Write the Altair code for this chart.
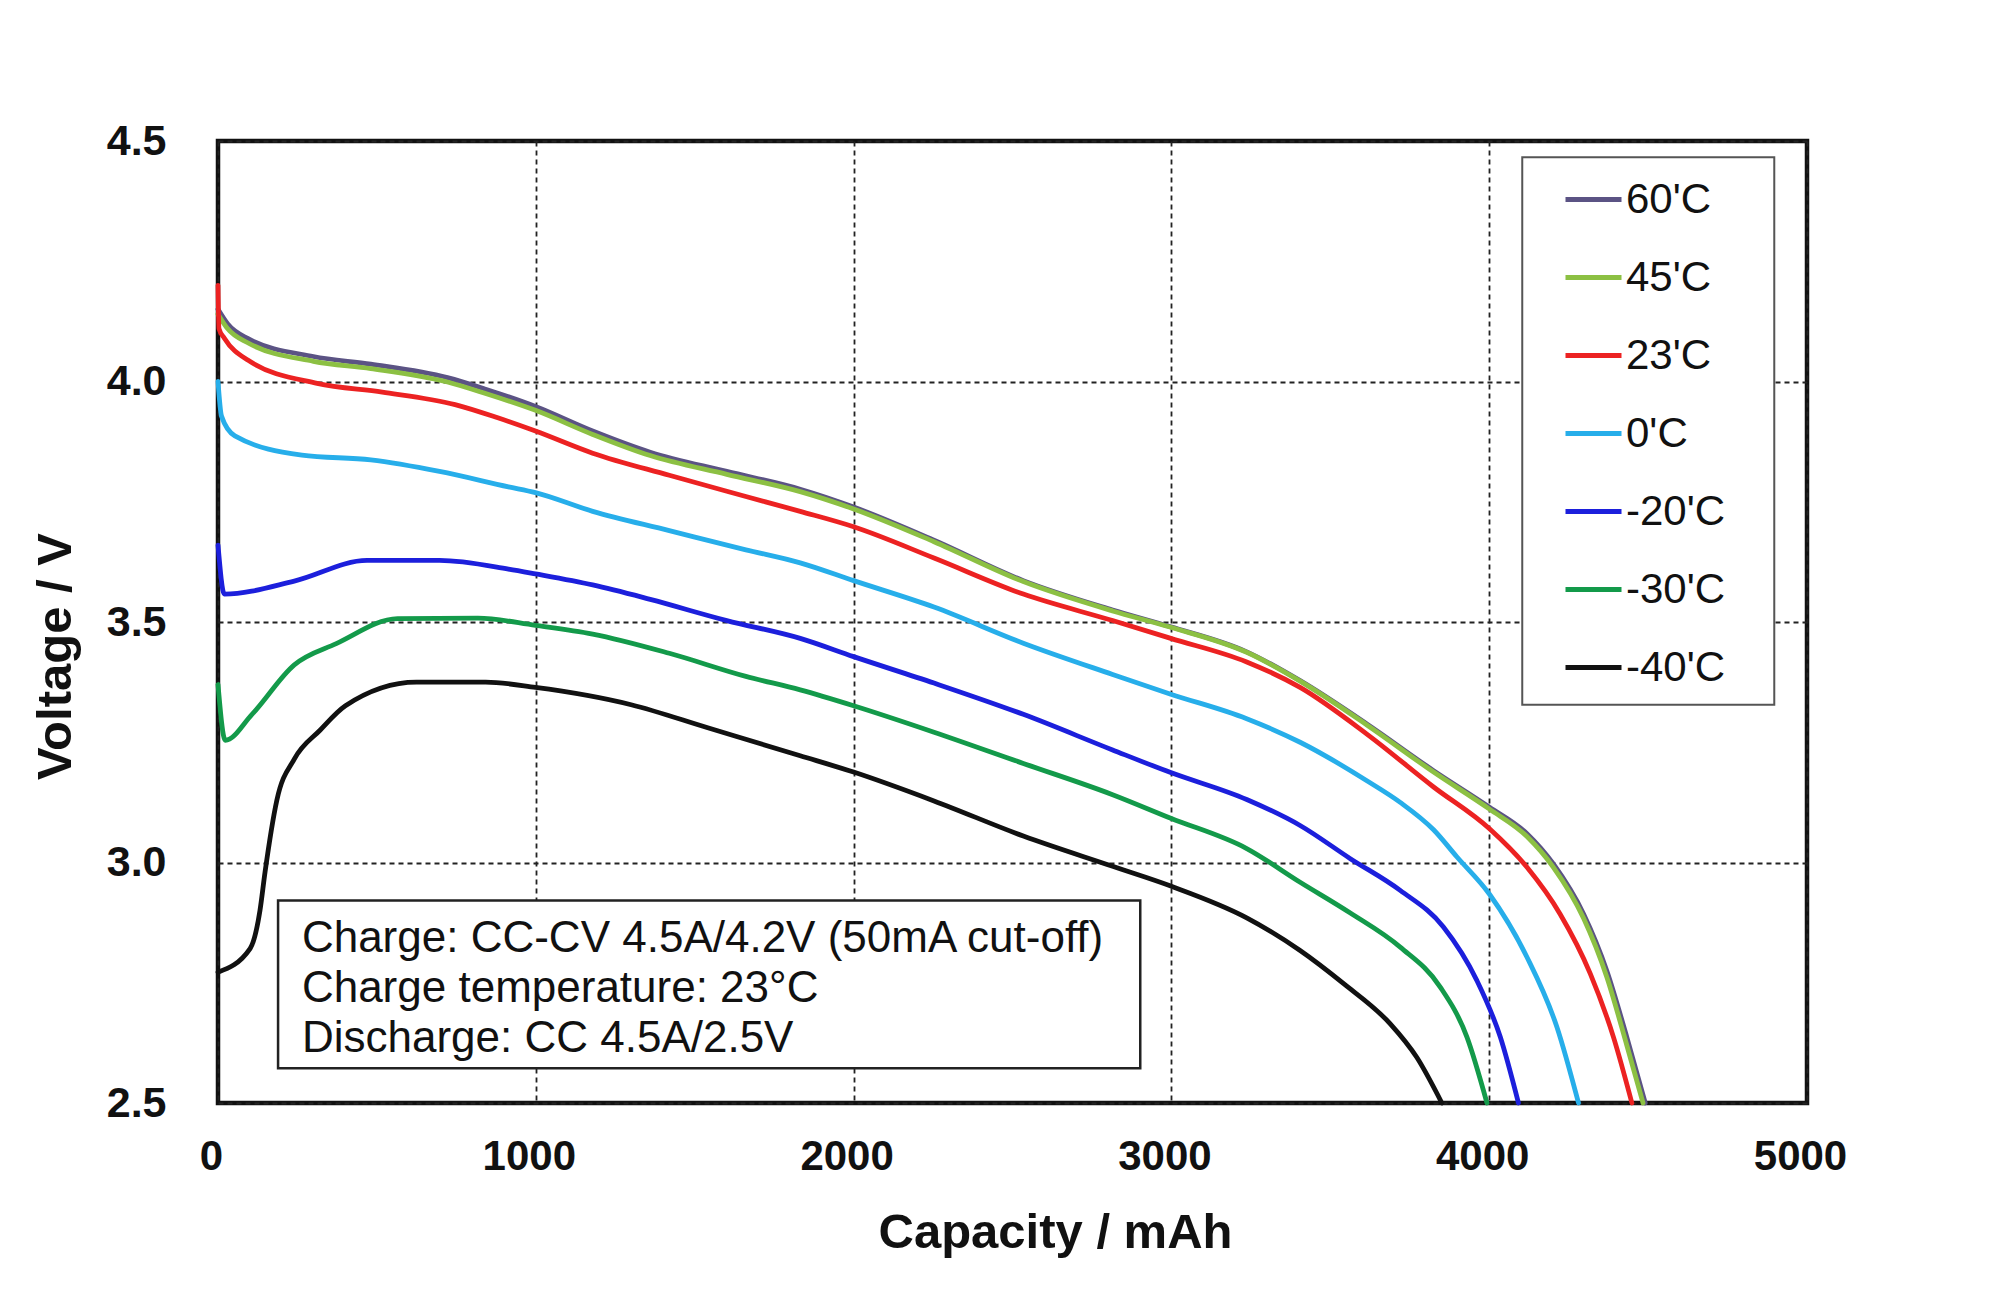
import altair as alt
import pandas as pd

# ---------------- data ----------------
series_names = ["60'C", "45'C", "23'C", "0'C", "-20'C", "-30'C", "-40'C"]
series_colors = ["#5b5384", "#8cc043", "#ec2222", "#27aeea", "#1c1fdc", "#139a4a", "#111111"]

cap_60 = [0, 30, 95, 300, 481, 722, 842, 999, 1179, 1360, 1601, 1832, 2000, 2253, 2534, 2815,
          2998, 3237, 3405, 3615, 3825, 4001, 4119, 4202, 4297, 4370, 4433, 4491]
volt_60 = [4.15, 4.12, 4.089, 4.052, 4.036, 4.008, 3.984, 3.948, 3.897, 3.853, 3.813, 3.776, 3.739,
           3.670, 3.586, 3.525, 3.490, 3.438, 3.378, 3.288, 3.191, 3.115, 3.060, 2.997, 2.893,
           2.775, 2.637, 2.5]

cap_45 = [0, 30, 95, 300, 481, 722, 842, 999, 1179, 1360, 1601, 1832, 2000, 2253, 2534, 2815,
          2998, 3237, 3405, 3615, 3825, 4001, 4119, 4202, 4297, 4370, 4433, 4484]
volt_45 = [4.14, 4.11, 4.080, 4.042, 4.027, 3.999, 3.975, 3.940, 3.890, 3.846, 3.807, 3.771, 3.735,
           3.667, 3.584, 3.523, 3.489, 3.437, 3.377, 3.286, 3.188, 3.111, 3.054, 2.990, 2.884,
           2.762, 2.620, 2.5]

cap_23 = [0, 3, 20, 95, 312, 517, 746, 878, 999, 1179, 1420, 1661, 1832, 2000, 2253, 2534, 2815,
          2998, 3237, 3405, 3615, 3825, 4001, 4119, 4223, 4318, 4391, 4449]
volt_23 = [4.20, 4.11, 4.09, 4.044, 3.996, 3.978, 3.952, 3.925, 3.897, 3.851, 3.805, 3.761, 3.730,
           3.698, 3.633, 3.558, 3.503, 3.466, 3.417, 3.364, 3.267, 3.157, 3.070, 2.990, 2.893,
           2.769, 2.637, 2.5]

cap_0 = [0, 11, 53, 264, 481, 697, 914, 999, 1179, 1420, 1661, 1832, 2000, 2253, 2534, 2815, 2998,
         3237, 3405, 3615, 3720, 3825, 3898, 4001, 4119, 4213, 4281]
volt_0 = [4.00, 3.928, 3.887, 3.847, 3.837, 3.813, 3.781, 3.769, 3.730, 3.690, 3.650, 3.623, 3.586,
          3.531, 3.456, 3.391, 3.350, 3.299, 3.250, 3.170, 3.125, 3.068, 3.012, 2.934, 2.803,
          2.658, 2.5]

cap_m20 = [0, 20, 240, 469, 697, 914, 999, 1179, 1360, 1601, 1832, 2000, 2253, 2534, 2815, 2998,
           3237, 3405, 3563, 3720, 3856, 3961, 4035, 4092]
volt_m20 = [3.66, 3.558, 3.585, 3.628, 3.628, 3.610, 3.600, 3.577, 3.547, 3.503, 3.466, 3.428,
            3.373, 3.308, 3.234, 3.187, 3.131, 3.077, 3.008, 2.942, 2.866, 2.755, 2.637, 2.5]

cap_m30 = [0, 23, 107, 240, 372, 565, 818, 999, 1179, 1420, 1661, 1832, 2000, 2253, 2534, 2815,
           2998, 3237, 3405, 3563, 3720, 3846, 3930, 3993]
volt_m30 = [3.37, 3.254, 3.308, 3.411, 3.455, 3.507, 3.508, 3.493, 3.475, 3.435, 3.387, 3.359,
            3.326, 3.271, 3.206, 3.141, 3.092, 3.029, 2.959, 2.895, 2.824, 2.741, 2.637, 2.5]

cap_m40 = [0, 101, 132, 148, 185, 240, 321, 401, 625, 842, 999, 1300, 1541, 1832, 2000, 2253, 2534,
           2815, 2998, 3237, 3405, 3542, 3688, 3772, 3851]
volt_m40 = [2.772, 2.821, 2.900, 2.980, 3.129, 3.215, 3.275, 3.326, 3.375, 3.375, 3.364, 3.328,
            3.280, 3.222, 3.188, 3.128, 3.055, 2.992, 2.951, 2.885, 2.817, 2.748, 2.665, 2.595, 2.5]

x_ticks = [0, 1000, 2000, 3000, 4000, 5000]
y_ticks = [2.5, 3.0, 3.5, 4.0, 4.5]

note_lines = ["Charge: CC-CV 4.5A/4.2V (50mA cut-off)",
              "Charge temperature: 23°C",
              "Discharge: CC 4.5A/2.5V"]
note_cap = [264, 264, 264]
note_volt = [2.813, 2.709, 2.605]
note_box_cap = [189, 2902]
note_box_volt = [2.921, 2.572]
legend_box_cap = [4104, 4897]
legend_box_volt = [4.466, 3.328]

# ---------------- tables ----------------
all_caps = [cap_60, cap_45, cap_23, cap_0, cap_m20, cap_m30, cap_m40]
all_volts = [volt_60, volt_45, volt_23, volt_0, volt_m20, volt_m30, volt_m40]
rows = []
for name, caps, volts in zip(series_names, all_caps, all_volts):
    for i, (c, v) in enumerate(zip(caps, volts)):
        rows.append({"series": name, "cap": c, "volt": v, "idx": i})
df = pd.DataFrame(rows)

note_df = pd.DataFrame({"cap": note_cap, "volt": note_volt, "text": note_lines})
note_box_df = pd.DataFrame({"cap": [note_box_cap[0]], "cap2": [note_box_cap[1]],
                            "volt": [note_box_volt[0]], "volt2": [note_box_volt[1]]})
legend_box_df = pd.DataFrame({"cap": [legend_box_cap[0]], "cap2": [legend_box_cap[1]],
                              "volt": [legend_box_volt[0]], "volt2": [legend_box_volt[1]]})

FONT = "Liberation Sans"
x_scale = alt.Scale(domain=[0, 5000], nice=False, zero=False)
y_scale = alt.Scale(domain=[2.5, 4.5], nice=False, zero=False)

x_axis = alt.Axis(
    values=x_ticks, format="d", title="Capacity / mAh",
    labelFont=FONT, labelFontSize=42, labelFontWeight="bold", labelColor="#111111",
    labelPadding=33, labelOffset=-7, labelFlush=False, labelOverlap=False,
    ticks=False, tickSize=0, domain=False,
    grid=True, gridColor="#222222", gridDash=[5, 4], gridWidth=1.8,
    titleFont=FONT, titleFontSize=49, titleFontWeight="bold", titleColor="#111111",
    titleX=837, titleY=144, titleBaseline="alphabetic", titleAlign="center")
y_axis = alt.Axis(
    values=y_ticks, format=".1f", title="Voltage / V",
    labelFont=FONT, labelFontSize=43, labelFontWeight="bold", labelColor="#111111",
    labelPadding=52, labelFlush=False, labelOverlap=False,
    ticks=False, tickSize=0, domain=False,
    grid=True, gridColor="#222222", gridDash=[5, 4], gridWidth=1.8,
    titleFont=FONT, titleFontSize=49, titleFontWeight="bold", titleColor="#111111",
    titleAngle=270, titleX=-148, titleY=515, titleBaseline="alphabetic", titleAlign="center")

X = alt.X("cap:Q", scale=x_scale, axis=x_axis, title="Capacity / mAh")
Y = alt.Y("volt:Q", scale=y_scale, axis=y_axis, title="Voltage / V")

legend_box = alt.Chart(legend_box_df).mark_rect(fill="white", stroke="#555555", strokeWidth=2).encode(
    x=X, x2="cap2:Q", y=Y, y2="volt2:Q")

note_box = alt.Chart(note_box_df).mark_rect(fill="white", stroke="#222222", strokeWidth=2.5).encode(
    x=X, x2="cap2:Q", y=Y, y2="volt2:Q")

lines = alt.Chart(df).mark_line(strokeWidth=4.8, strokeJoin="round", strokeCap="round",
                                interpolate="monotone").encode(
    x=X, y=Y,
    color=alt.Color("series:N", title=None,
                    scale=alt.Scale(domain=series_names, range=series_colors),
                    legend=alt.Legend(orient="none", legendX=1345, legendY=28, padding=0,
                                      symbolType="stroke", symbolSize=3136, symbolStrokeWidth=5,
                                      labelFont=FONT, labelFontSize=42, labelColor="#111111",
                                      labelOffset=2, rowPadding=26)),
    order=alt.Order("idx:Q"),
)

notes = alt.Chart(note_df).mark_text(align="left", baseline="alphabetic", font=FONT,
                                     fontSize=44, color="#111111").encode(
    x=X, y=Y, text="text:N")

chart = alt.layer(legend_box, note_box, lines, notes).properties(
    width=1589, height=962,
    autosize=alt.AutoSizeParams(type="none"),
    padding={"left": 210, "top": 133, "right": 170, "bottom": 180},
    background="white",
).configure(font=FONT).configure_view(stroke="#111111", strokeWidth=4.5)

chart.save("out.html", embed_options={"renderer": "svg", "actions": False})
